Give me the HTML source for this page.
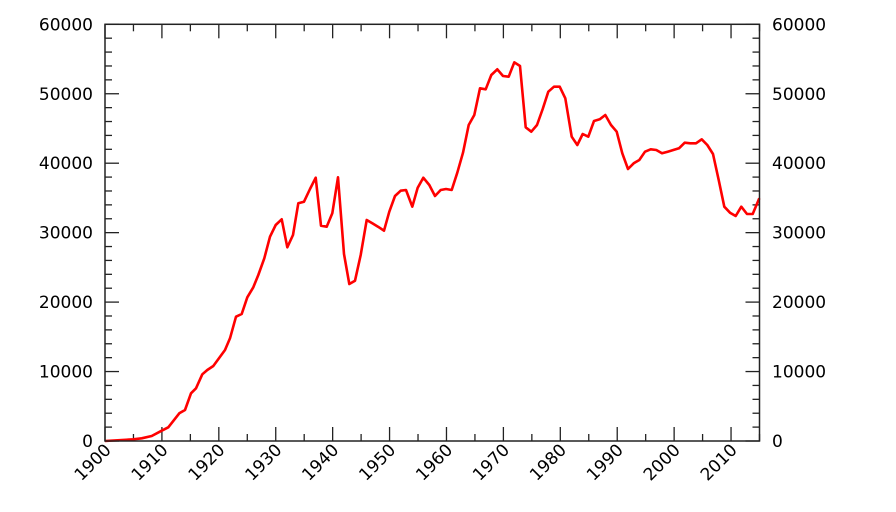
<!DOCTYPE html>
<html><head><meta charset="utf-8"><style>html,body{margin:0;padding:0;background:#fff}svg{display:block}text{font-family:"DejaVu Sans","Liberation Sans",sans-serif;font-size:17px;fill:#000}</style></head>
<body>
<svg id="s" width="896" height="512" xmlns="http://www.w3.org/2000/svg">
<g id="ticks" stroke="#222" stroke-width="1.3"></g>
<polyline id="line" fill="none" stroke="#f00" stroke-width="2.6" stroke-linejoin="round" points=""/>
<rect x="105" y="24.3" width="654.5" height="416.7" fill="none" stroke="#222" stroke-width="1.5"/>
<g id="labels"></g>
</svg>
<script>
var L=105,R=759.5,T=24.3,B=441;
var NS="http://www.w3.org/2000/svg";
var tg=document.getElementById('ticks'),lg=document.getElementById('labels');
function ln(x1,y1,x2,y2){var e=document.createElementNS(NS,'line');e.setAttribute('x1',x1);e.setAttribute('y1',y1);e.setAttribute('x2',x2);e.setAttribute('y2',y2);tg.appendChild(e);}
function tx(x,y,s,anchor,rot){var e=document.createElementNS(NS,'text');e.setAttribute('x',x);e.setAttribute('y',y);e.setAttribute('text-anchor',anchor);if(rot)e.setAttribute('transform','rotate(-45 '+x+' '+y+')');e.textContent=s;lg.appendChild(e);}
for(var v=0;v<=60000;v+=2000){var y=B-(B-T)*v/60000;var len=(v%10000==0)?14:7;ln(L,y,L+len,y);ln(R,y,R-len,y);
 if(v%10000==0){tx(93,y+6,String(v),'end');tx(772,y+6,String(v),'start');}}
for(var yr=1900;yr<=2015;yr+=5){var x=L+(R-L)*(yr-1900)/115;var len=(yr%10==0)?14:7;ln(x,B,x,B-len);ln(x,T,x,T+len);
 if(yr%10==0)tx(x+7,451,String(yr),'end',true);}
var z1=[[45,1293],[130,1288],[155,1285],[185,1278],[215,1262],[235,1252],[268,1210],[285,1200],[303,1150],[318,1135],[337,1093],[352,1080],[370,1068],[405,1020],[420,985],[438,920],[455,912],[472,862],[490,832],[505,795],[523,745],[540,680],[557,645],[575,628],[592,712],[609,675],[625,580],[642,575],[660,537],[677,503],[693,647],[710,650],[727,610],[744,502],[762,732],[778,822],[795,812],[812,735],[830,630],[847,640],[864,650],[882,662],[898,605],[915,558],[932,542],[948,540],[967,590],[983,533]];
var z2=[[10,503],[28,525],[45,558],[62,540],[78,537],[95,540],[112,488],[129,428],[146,345],[163,315],[180,235],[197,238],[214,195],[232,178],[249,198],[266,200],[283,157],[300,168],[317,352],[334,365],[351,345],[368,297],[385,245],[402,230],[419,230],[436,265],[455,380],[472,405],[488,372],[505,380],[522,333],[539,328],[556,315],[573,345],[590,365],[607,430],[624,477],[641,460],[658,450],[675,425],[692,418],[709,420],[726,430],[743,425],[760,420],[777,415],[794,398],[811,400],[828,400],[845,388],[862,405],[879,432],[896,510],[913,590],[930,608],[947,618],[964,590],[981,612],[998,612],[1018,565]];
var pts=[];z1.forEach(function(p){pts.push((90+p[0]/3).toFixed(1)+','+(10+p[1]/3).toFixed(1));});
z2.forEach(function(p){pts.push((420+p[0]/3).toFixed(1)+','+(10+p[1]/3).toFixed(1));});
document.getElementById('line').setAttribute('points',pts.join(' '));
</script>
</body></html>
